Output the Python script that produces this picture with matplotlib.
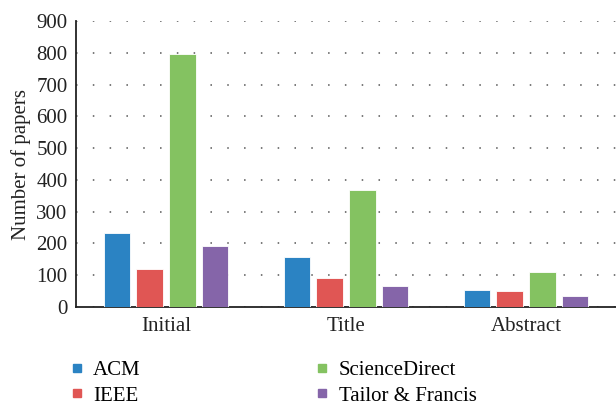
import numpy as np
import matplotlib.pyplot as plt
from matplotlib.lines import Line2D

stages = ["Initial", "Title", "Abstract"]
sources = ["ACM", "IEEE", "ScienceDirect", "Tailor & Francis"]
acm = [233, 157, 54]
ieee = [120, 92, 51]
sciencedirect = [797, 369, 111]
tailor_francis = [192, 65, 35]
colors = ["#2b83c3", "#e05654", "#84c261", "#8565a9"]

plt.rcParams['font.family'] = ['Liberation Serif', 'DejaVu Serif']

fig = plt.figure(figsize=(6.16, 4.07), dpi=100)
ax = fig.add_axes([0.1234, 0.2457, 0.8766, 0.7026])

x = np.arange(len(stages)) + 0.5
width = 0.145
step = 0.183
series = [acm, ieee, sciencedirect, tailor_francis]
for i, (vals, name) in enumerate(zip(series, sources)):
    ax.bar(x + (i - 1.5) * step, vals, width, color=colors[i], label=name,
           edgecolor="white", linewidth=0.6, zorder=3)

ax.set_xlim(0, 3)
ax.set_ylim(0, 900)
ax.set_yticks(range(0, 901, 100))
ax.set_xticks(x)
ax.set_xticklabels(stages)
ax.tick_params(axis='both', length=0, labelsize=15, colors="#222222")
ax.tick_params(axis='x', pad=7)
ax.tick_params(axis='y', pad=6)
ax.set_ylabel("Number of papers", fontsize=15, color="#222222", labelpad=4)
ax.yaxis.grid(True, color="#555555", linestyle=(0, (1, 10)), linewidth=1.1, zorder=0)
for s in ["top", "right"]:
    ax.spines[s].set_visible(False)
ax.spines["left"].set_linewidth(1.3)
ax.spines["bottom"].set_linewidth(1.3)
ax.spines["left"].set_color("#222222")
ax.spines["bottom"].set_color("#222222")

handles = [Line2D([], [], marker='s', linestyle='none', markersize=6, color=c) for c in colors]
fig.legend(handles, sources, ncol=2, loc="lower left", bbox_to_anchor=(0.077, -0.043),
           frameon=False, fontsize=15, handletextpad=0.3, columnspacing=8.2,
           labelspacing=0.3, handlelength=1.0)

fig.savefig("out.png", dpi=100)
